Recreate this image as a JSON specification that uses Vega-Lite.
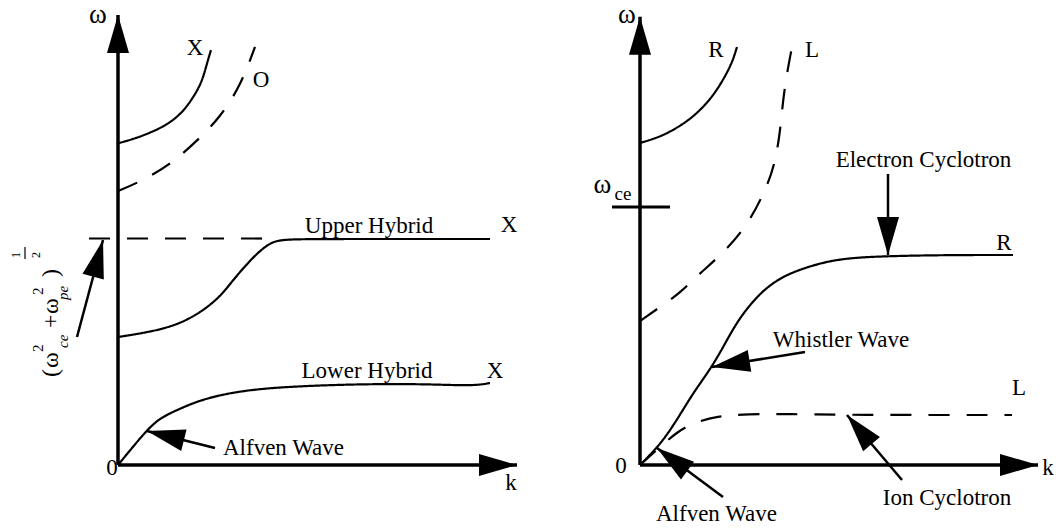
{
  "$schema": "https://vega.github.io/schema/vega-lite/v6.json",
  "padding": 0,
  "spacing": 0,
  "bounds": "flush",
  "background": "white",
  "config": {"view": {"stroke": null}, "text": {"font": "Liberation Serif", "color": "black"}},
  "datasets": {
    "left_curves": [
      {"curve": "X upper", "mode": "X", "k": 0, "w": 7.15},
      {"curve": "X upper", "mode": "X", "k": 0.375, "w": 7.24},
      {"curve": "X upper", "mode": "X", "k": 0.8, "w": 7.38},
      {"curve": "X upper", "mode": "X", "k": 1.225, "w": 7.56},
      {"curve": "X upper", "mode": "X", "k": 1.6, "w": 7.82},
      {"curve": "X upper", "mode": "X", "k": 1.875, "w": 8.16},
      {"curve": "X upper", "mode": "X", "k": 2.1, "w": 8.51},
      {"curve": "X upper", "mode": "X", "k": 2.225, "w": 8.93},
      {"curve": "X upper", "mode": "X", "k": 2.325, "w": 9.22},
      {"curve": "O", "mode": "O", "k": 0, "w": 6.09},
      {"curve": "O", "mode": "O", "k": 0.55, "w": 6.29},
      {"curve": "O", "mode": "O", "k": 1.3, "w": 6.67},
      {"curve": "O", "mode": "O", "k": 2.0, "w": 7.22},
      {"curve": "O", "mode": "O", "k": 2.55, "w": 7.73},
      {"curve": "O", "mode": "O", "k": 3.05, "w": 8.4},
      {"curve": "O", "mode": "O", "k": 3.425, "w": 9.29},
      {"curve": "upper hybrid", "mode": "X", "k": 0, "w": 2.844},
      {"curve": "upper hybrid", "mode": "X", "k": 0.8, "w": 2.956},
      {"curve": "upper hybrid", "mode": "X", "k": 1.475, "w": 3.111},
      {"curve": "upper hybrid", "mode": "X", "k": 2.05, "w": 3.378},
      {"curve": "upper hybrid", "mode": "X", "k": 2.55, "w": 3.733},
      {"curve": "upper hybrid", "mode": "X", "k": 2.875, "w": 4.111},
      {"curve": "upper hybrid", "mode": "X", "k": 3.375, "w": 4.622},
      {"curve": "upper hybrid", "mode": "X", "k": 3.725, "w": 4.889},
      {"curve": "upper hybrid", "mode": "X", "k": 3.975, "w": 5.0},
      {"curve": "upper hybrid", "mode": "X", "k": 4.55, "w": 5.022},
      {"curve": "upper hybrid", "mode": "X", "k": 6.5, "w": 5.022},
      {"curve": "upper hybrid", "mode": "X", "k": 9.3, "w": 5.022},
      {"curve": "upper hybrid resonance", "mode": "resonance", "k": -0.725, "w": 5.033},
      {"curve": "upper hybrid resonance", "mode": "resonance", "k": 3.975, "w": 5.033},
      {"curve": "lower hybrid", "mode": "X", "k": 0, "w": 0},
      {"curve": "lower hybrid", "mode": "X", "k": 0.35, "w": 0.378},
      {"curve": "lower hybrid", "mode": "X", "k": 0.725, "w": 0.778},
      {"curve": "lower hybrid", "mode": "X", "k": 1.05, "w": 1.044},
      {"curve": "lower hybrid", "mode": "X", "k": 1.475, "w": 1.222},
      {"curve": "lower hybrid", "mode": "X", "k": 2.05, "w": 1.444},
      {"curve": "lower hybrid", "mode": "X", "k": 2.875, "w": 1.622},
      {"curve": "lower hybrid", "mode": "X", "k": 3.975, "w": 1.733},
      {"curve": "lower hybrid", "mode": "X", "k": 5.975, "w": 1.8},
      {"curve": "lower hybrid", "mode": "X", "k": 7.725, "w": 1.8},
      {"curve": "lower hybrid", "mode": "X", "k": 8.875, "w": 1.756},
      {"curve": "lower hybrid", "mode": "X", "k": 9.3, "w": 1.822}
    ],
    "left_arrows": [
      {"name": "omega axis", "kind": "axis", "k": 0, "w": 0, "k2": 0, "w2": 10},
      {"name": "k axis", "kind": "axis", "k": 0, "w": 0, "k2": 9.975, "w2": 0},
      {"name": "Alfven pointer", "kind": "pointer", "k": 2.425, "w": 0.378, "k2": 0.725, "w2": 0.756},
      {"name": "resonance pointer", "kind": "pointer", "k": -1.025, "w": 2.844, "k2": -0.375, "w2": 5.0},
      {"name": "fraction bar", "kind": "bar", "k": -2.325, "w": 4.578, "k2": -2.325, "w2": 4.844}
    ],
    "left_labels": [
      {"txt": "ω", "role": "omega", "k": -0.5, "w": 9.822},
      {"txt": "X", "role": "label", "k": 1.925, "w": 9.111},
      {"txt": "O", "role": "label", "k": 3.575, "w": 8.4},
      {"txt": "Upper Hybrid", "role": "label", "k": 6.275, "w": 5.156},
      {"txt": "X", "role": "label", "k": 9.775, "w": 5.178},
      {"txt": "Lower Hybrid", "role": "label", "k": 6.225, "w": 1.933},
      {"txt": "X", "role": "label", "k": 9.425, "w": 1.933},
      {"txt": "0", "role": "label", "k": -0.15, "w": -0.222},
      {"txt": "k", "role": "label", "k": 9.825, "w": -0.556},
      {"txt": "Alfven Wave", "role": "label", "k": 4.1375, "w": 0.222}
    ],
    "left_formula": [
      {"txt": "(", "style": "roman", "role": "main", "k": -1.5, "w": 1.956},
      {"txt": "ω", "style": "roman", "role": "main", "k": -1.5, "w": 2.156},
      {"txt": "2", "style": "roman", "role": "script", "k": -1.875, "w": 2.511},
      {"txt": "ce", "style": "italic", "role": "script", "k": -1.25, "w": 2.6},
      {"txt": "+", "style": "roman", "role": "main", "k": -1.5, "w": 3.044},
      {"txt": "ω", "style": "roman", "role": "main", "k": -1.5, "w": 3.356},
      {"txt": "2", "style": "roman", "role": "script", "k": -1.875, "w": 3.778},
      {"txt": "pe", "style": "italic", "role": "script", "k": -1.25, "w": 3.667},
      {"txt": ")", "style": "roman", "role": "main", "k": -1.5, "w": 4.178},
      {"txt": "1", "style": "roman", "role": "frac", "k": -2.45, "w": 4.6},
      {"txt": "2", "style": "roman", "role": "frac", "k": -1.95, "w": 4.6}
    ],
    "right_curves": [
      {"curve": "R upper", "mode": "R", "k": 0, "w": 7.156},
      {"curve": "R upper", "mode": "R", "k": 0.5, "w": 7.289},
      {"curve": "R upper", "mode": "R", "k": 0.925, "w": 7.489},
      {"curve": "R upper", "mode": "R", "k": 1.325, "w": 7.733},
      {"curve": "R upper", "mode": "R", "k": 1.675, "w": 8.044},
      {"curve": "R upper", "mode": "R", "k": 1.925, "w": 8.333},
      {"curve": "R upper", "mode": "R", "k": 2.175, "w": 8.711},
      {"curve": "R upper", "mode": "R", "k": 2.325, "w": 9.0},
      {"curve": "R upper", "mode": "R", "k": 2.425, "w": 9.289},
      {"curve": "L upper", "mode": "L", "k": 0, "w": 3.2},
      {"curve": "L upper", "mode": "L", "k": 0.575, "w": 3.556},
      {"curve": "L upper", "mode": "L", "k": 1.0, "w": 3.822},
      {"curve": "L upper", "mode": "L", "k": 1.5, "w": 4.267},
      {"curve": "L upper", "mode": "L", "k": 1.95, "w": 4.6},
      {"curve": "L upper", "mode": "L", "k": 2.675, "w": 5.289},
      {"curve": "L upper", "mode": "L", "k": 3.175, "w": 6.178},
      {"curve": "L upper", "mode": "L", "k": 3.375, "w": 6.711},
      {"curve": "L upper", "mode": "L", "k": 3.5, "w": 7.378},
      {"curve": "L upper", "mode": "L", "k": 3.575, "w": 8.111},
      {"curve": "L upper", "mode": "L", "k": 3.675, "w": 8.711},
      {"curve": "L upper", "mode": "L", "k": 3.8, "w": 9.289},
      {"curve": "R whistler", "mode": "R", "k": 0, "w": 0},
      {"curve": "R whistler", "mode": "R", "k": 0.5, "w": 0.444},
      {"curve": "R whistler", "mode": "R", "k": 0.925, "w": 1.0},
      {"curve": "R whistler", "mode": "R", "k": 1.325, "w": 1.6},
      {"curve": "R whistler", "mode": "R", "k": 1.8, "w": 2.178},
      {"curve": "R whistler", "mode": "R", "k": 2.175, "w": 2.778},
      {"curve": "R whistler", "mode": "R", "k": 2.5, "w": 3.289},
      {"curve": "R whistler", "mode": "R", "k": 3.0, "w": 3.822},
      {"curve": "R whistler", "mode": "R", "k": 3.425, "w": 4.111},
      {"curve": "R whistler", "mode": "R", "k": 3.825, "w": 4.289},
      {"curve": "R whistler", "mode": "R", "k": 4.5, "w": 4.489},
      {"curve": "R whistler", "mode": "R", "k": 5.175, "w": 4.6},
      {"curve": "R whistler", "mode": "R", "k": 6.2, "w": 4.644},
      {"curve": "R whistler", "mode": "R", "k": 7.75, "w": 4.667},
      {"curve": "R whistler", "mode": "R", "k": 9.325, "w": 4.667},
      {"curve": "L ion cyclotron", "mode": "L", "k": 0, "w": 0},
      {"curve": "L ion cyclotron", "mode": "L", "k": 0.5, "w": 0.4},
      {"curve": "L ion cyclotron", "mode": "L", "k": 0.925, "w": 0.733},
      {"curve": "L ion cyclotron", "mode": "L", "k": 1.325, "w": 0.933},
      {"curve": "L ion cyclotron", "mode": "L", "k": 1.925, "w": 1.089},
      {"curve": "L ion cyclotron", "mode": "L", "k": 2.675, "w": 1.133},
      {"curve": "L ion cyclotron", "mode": "L", "k": 3.75, "w": 1.133},
      {"curve": "L ion cyclotron", "mode": "L", "k": 5.25, "w": 1.111},
      {"curve": "L ion cyclotron", "mode": "L", "k": 9.3, "w": 1.111}
    ],
    "right_arrows": [
      {"name": "omega axis", "kind": "axis", "k": 0, "w": 0, "k2": 0, "w2": 9.96},
      {"name": "k axis", "kind": "axis", "k": 0, "w": 0, "k2": 9.95, "w2": 0},
      {"name": "omega_ce tick", "kind": "tick", "k": -0.7, "w": 5.733, "k2": 0.75, "w2": 5.733},
      {"name": "electron cyclotron pointer", "kind": "pointer", "k": 6.2, "w": 6.467, "k2": 6.2, "w2": 4.667},
      {"name": "whistler pointer", "kind": "pointer", "k": 4.125, "w": 2.511, "k2": 1.8, "w2": 2.178},
      {"name": "ion cyclotron pointer", "kind": "pointer", "k": 6.55, "w": -0.333, "k2": 5.175, "w2": 1.111},
      {"name": "Alfven pointer", "kind": "pointer", "k": 2.075, "w": -0.711, "k2": 0.425, "w2": 0.378}
    ],
    "right_labels": [
      {"txt": "ω", "role": "omega", "k": -0.325, "w": 9.822},
      {"txt": "R", "role": "label", "k": 1.9, "w": 9.067},
      {"txt": "L", "role": "label", "k": 4.3, "w": 9.067},
      {"txt": "ω", "role": "omega", "k": -0.9375, "w": 6.044},
      {"txt": "ce", "role": "sub", "k": -0.425, "w": 5.889},
      {"txt": "Electron Cyclotron", "role": "label", "k": 7.0875, "w": 6.622},
      {"txt": "R", "role": "label", "k": 9.1, "w": 4.778},
      {"txt": "Whistler Wave", "role": "label", "k": 5.025, "w": 2.622},
      {"txt": "L", "role": "label", "k": 9.475, "w": 1.556},
      {"txt": "0", "role": "label", "k": -0.475, "w": -0.178},
      {"txt": "k", "role": "label", "k": 10.2, "w": -0.222},
      {"txt": "Ion Cyclotron", "role": "label", "k": 7.675, "w": -0.889},
      {"txt": "Alfven Wave", "role": "label", "k": 1.9125, "w": -1.244}
    ]
  },
  "hconcat": [
    {
      "width": 560,
      "height": 528,
      "encoding": {
        "x": {"field": "k", "type": "quantitative", "scale": {"domain": [-2.95, 11.05], "nice": false, "zero": false}, "axis": null},
        "y": {"field": "w", "type": "quantitative", "scale": {"domain": [-1.4, 10.3333], "nice": false, "zero": false}, "axis": null}
      },
      "layer": [
        {
          "data": {"name": "left_curves"},
          "mark": {"type": "line", "interpolate": "basis", "color": "black", "strokeWidth": 2.2},
          "encoding": {
            "detail": {"field": "curve"},
            "strokeDash": {"field": "mode", "type": "nominal", "scale": {"type": "ordinal", "domain": ["X", "O", "resonance"], "range": [[1, 0], [21, 17], [21, 17]]}, "legend": null}
          }
        },
        {
          "data": {"name": "left_arrows"},
          "mark": {"type": "rule", "color": "black"},
          "encoding": {
            "x2": {"field": "k2"},
            "y2": {"field": "w2"},
            "strokeWidth": {"field": "kind", "type": "nominal", "scale": {"type": "ordinal", "domain": ["axis", "pointer", "bar", "tick"], "range": [3.5, 2.5, 1.2, 3]}, "legend": null}
          }
        },
        {
          "data": {"name": "left_arrows"},
          "transform": [
            {"filter": "datum.kind === 'axis' || datum.kind === 'pointer'"},
            {"calculate": "atan2((datum.k2 - datum.k) * 40, (datum.w2 - datum.w) * 45) * 180 / PI", "as": "heading"}
          ],
          "mark": {"type": "point", "shape": "M0,0L0.29,1L-0.29,1Z", "size": 5776, "filled": true, "color": "black", "opacity": 1, "strokeWidth": 0},
          "encoding": {
            "x": {"field": "k2", "type": "quantitative"},
            "y": {"field": "w2", "type": "quantitative"},
            "angle": {"field": "heading", "type": "quantitative", "scale": null}
          }
        },
        {
          "data": {"name": "left_labels"},
          "mark": {"type": "text", "font": "Liberation Serif", "align": "center", "baseline": "alphabetic", "color": "black"},
          "encoding": {
            "text": {"field": "txt"},
            "size": {"field": "role", "type": "nominal", "scale": {"type": "ordinal", "domain": ["label", "omega", "sub", "main", "script", "frac"], "range": [23, 27, 19, 24, 15, 12]}, "legend": null}
          }
        },
        {
          "data": {"name": "left_formula"},
          "transform": [{"filter": "datum.style === 'roman'"}],
          "mark": {"type": "text", "font": "Liberation Serif", "angle": 270, "align": "left", "baseline": "alphabetic", "color": "black"},
          "encoding": {
            "text": {"field": "txt"},
            "size": {"field": "role", "type": "nominal", "scale": {"type": "ordinal", "domain": ["label", "omega", "sub", "main", "script", "frac"], "range": [23, 27, 19, 24, 15, 12]}, "legend": null}
          }
        },
        {
          "data": {"name": "left_formula"},
          "transform": [{"filter": "datum.style === 'italic'"}],
          "mark": {"type": "text", "font": "Liberation Serif", "fontStyle": "italic", "angle": 270, "align": "left", "baseline": "alphabetic", "color": "black"},
          "encoding": {
            "text": {"field": "txt"},
            "size": {"field": "role", "type": "nominal", "scale": {"type": "ordinal", "domain": ["label", "omega", "sub", "main", "script", "frac"], "range": [23, 27, 19, 24, 15, 12]}, "legend": null}
          }
        }
      ]
    },
    {
      "width": 499,
      "height": 528,
      "encoding": {
        "x": {"field": "k", "type": "quantitative", "scale": {"domain": [-2, 10.475], "nice": false, "zero": false}, "axis": null},
        "y": {"field": "w", "type": "quantitative", "scale": {"domain": [-1.4, 10.3333], "nice": false, "zero": false}, "axis": null}
      },
      "layer": [
        {
          "data": {"name": "right_curves"},
          "mark": {"type": "line", "interpolate": "basis", "color": "black", "strokeWidth": 2.2},
          "encoding": {
            "detail": {"field": "curve"},
            "strokeDash": {"field": "mode", "type": "nominal", "scale": {"type": "ordinal", "domain": ["R", "L"], "range": [[1, 0], [21, 17]]}, "legend": null}
          }
        },
        {
          "data": {"name": "right_arrows"},
          "mark": {"type": "rule", "color": "black"},
          "encoding": {
            "x2": {"field": "k2"},
            "y2": {"field": "w2"},
            "strokeWidth": {"field": "kind", "type": "nominal", "scale": {"type": "ordinal", "domain": ["axis", "pointer", "bar", "tick"], "range": [3.5, 2.5, 1.2, 3]}, "legend": null}
          }
        },
        {
          "data": {"name": "right_arrows"},
          "transform": [
            {"filter": "datum.kind === 'axis' || datum.kind === 'pointer'"},
            {"calculate": "atan2((datum.k2 - datum.k) * 40, (datum.w2 - datum.w) * 45) * 180 / PI", "as": "heading"}
          ],
          "mark": {"type": "point", "shape": "M0,0L0.29,1L-0.29,1Z", "size": 5776, "filled": true, "color": "black", "opacity": 1, "strokeWidth": 0},
          "encoding": {
            "x": {"field": "k2", "type": "quantitative"},
            "y": {"field": "w2", "type": "quantitative"},
            "angle": {"field": "heading", "type": "quantitative", "scale": null}
          }
        },
        {
          "data": {"name": "right_labels"},
          "mark": {"type": "text", "font": "Liberation Serif", "align": "center", "baseline": "alphabetic", "color": "black"},
          "encoding": {
            "text": {"field": "txt"},
            "size": {"field": "role", "type": "nominal", "scale": {"type": "ordinal", "domain": ["label", "omega", "sub", "main", "script", "frac"], "range": [23, 27, 19, 24, 15, 12]}, "legend": null}
          }
        }
      ]
    }
  ]
}
